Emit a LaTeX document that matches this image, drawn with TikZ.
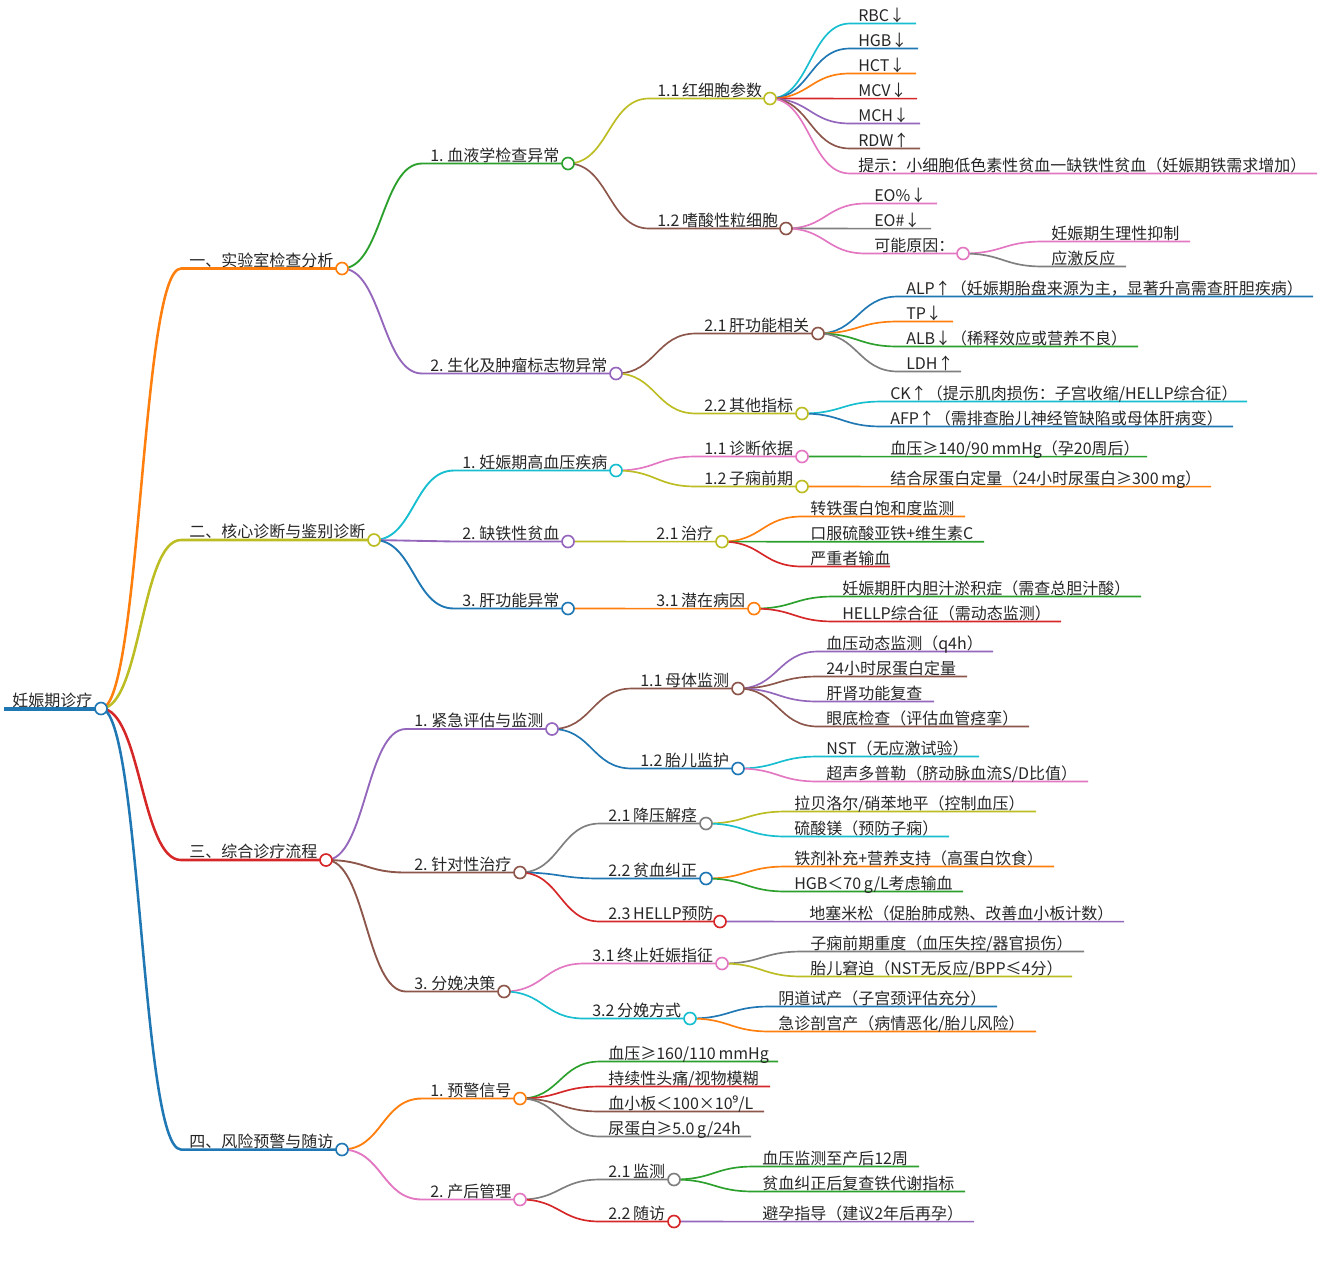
\documentclass[tikz,border=0pt]{standalone}
\usepackage{fontspec}
\setmainfont[WordSpace=0.75]{Noto Sans CJK SC}
\newfontfamily\supfont{Noto Sans}
\usetikzlibrary{calc,backgrounds}
\definecolor{cblue}{HTML}{1F77B4}
\definecolor{corange}{HTML}{FF7F0E}
\definecolor{cgreen}{HTML}{2CA02C}
\definecolor{cred}{HTML}{D62728}
\definecolor{cpurple}{HTML}{9467BD}
\definecolor{cbrown}{HTML}{8C564B}
\definecolor{cpink}{HTML}{E377C2}
\definecolor{cgray}{HTML}{7F7F7F}
\definecolor{colive}{HTML}{BCBD22}
\definecolor{ccyan}{HTML}{17BECF}
\tikzset{
  txt/.style={anchor=south west,inner xsep=6pt,inner ysep=0pt,text depth=1.5pt,text=black!85,font=\fontsize{12}{14}\selectfont},
  dot/.style={circle,draw=#1,fill=white,line width=1.25pt,minimum size=9pt,inner sep=0pt},
  lk/.style={to path={.. controls ($(\tikztostart)!0.5!(\tikztotarget |- \tikztostart)$) and ($(\tikztostart |- \tikztotarget)!0.5!(\tikztotarget)$) .. (\tikztotarget)}},
  lnone/.style={line width=1.9pt},
  lntwo/.style={line width=1.4pt},
  lnrest/.style={line width=1.25pt}
}
\begin{document}
\begin{tikzpicture}[x=0.75pt,y=-0.75pt]
  \useasboundingbox (0,0) rectangle (1323,1264);
  % root
  \node [txt] (rt) at (4,708.5) {妊娠期诊疗};
  \node [dot=cblue] (rte) at (101,708.5) {};
  % first branch
  \node [txt] (a) at (181,268.5) {一、实验室检查分析};
  \node [dot=corange] (ae) at (342,268.5) {};
  \node [txt] (a1) at (422,163.5) {1. 血液学检查异常};
  \node [dot=cgreen] (a1e) at (568,163.5) {};
  \node [txt] (a1a) at (649,98.5) {1.1 红细胞参数};
  \node [dot=colive] (a1ae) at (770,98.5) {};
  \node [txt] (rbc) at (850,23.5) {RBC↓};
  \coordinate (rbce) at (916,23.5);
  \node [txt] (hgb) at (850,48.5) {HGB↓};
  \coordinate (hgbe) at (918,48.5);
  \node [txt] (hct) at (850,73.5) {HCT↓};
  \coordinate (hcte) at (916,73.5);
  \node [txt] (mcv) at (850,98.6) {MCV↓};
  \coordinate (mcve) at (917,98.6);
  \node [txt] (mch) at (850,123.5) {MCH↓};
  \coordinate (mche) at (920,123.5);
  \node [txt] (rdw) at (850,148.5) {RDW↑};
  \coordinate (rdwe) at (920,148.5);
  \node [txt] (tip) at (850,173.5) {提示：小细胞低色素性贫血一缺铁性贫血（妊娠期铁需求增加）};
  \coordinate (tipe) at (1317,173.5);
  \node [txt] (a1b) at (649,228.5) {1.2 嗜酸性粒细胞};
  \node [dot=cbrown] (a1be) at (786,228.5) {};
  \node [txt] (eop) at (866,203.5) {EO\%↓};
  \coordinate (eope) at (937,203.5);
  \node [txt] (eon) at (866,228.6) {EO\#↓};
  \coordinate (eone) at (931,228.6);
  \node [txt] (eoc) at (866,253.5) {可能原因：};
  \node [dot=cpink] (eoce) at (963,253.5) {};
  \node [txt] (eoc1) at (1043,241.5) {妊娠期生理性抑制};
  \coordinate (eoc1e) at (1190,241.5);
  \node [txt] (eoc2) at (1043,266.5) {应激反应};
  \coordinate (eoc2e) at (1126,266.5);
  \node [txt] (a2) at (422,373.5) {2. 生化及肿瘤标志物异常};
  \node [dot=cpurple] (a2e) at (616,373.5) {};
  \node [txt] (a2a) at (696,333.5) {2.1 肝功能相关};
  \node [dot=cbrown] (a2ae) at (818,333.5) {};
  \node [txt] (alp) at (898,296.5) {ALP↑（妊娠期胎盘来源为主，显著升高需查肝胆疾病）};
  \coordinate (alpe) at (1313,296.5);
  \node [txt] (tp) at (898,321.5) {TP↓};
  \coordinate (tpe) at (953,321.5);
  \node [txt] (alb) at (898,346.5) {ALB↓（稀释效应或营养不良）};
  \coordinate (albe) at (1138,346.5);
  \node [txt] (ldh) at (898,371.5) {LDH↑};
  \coordinate (ldhe) at (961,371.5);
  \node [txt] (a2b) at (696,413.5) {2.2 其他指标};
  \node [dot=colive] (a2be) at (802,413.5) {};
  \node [txt] (ck) at (882,401.5) {CK↑（提示肌肉损伤：子宫收缩/HELLP综合征）};
  \coordinate (cke) at (1247,401.5);
  \node [txt] (afp) at (882,426.5) {AFP↑（需排查胎儿神经管缺陷或母体肝病变）};
  \coordinate (afpe) at (1233,426.5);
  % second branch
  \node [txt] (b) at (181,540) {二、核心诊断与鉴别诊断};
  \node [dot=colive] (be) at (374,540) {};
  \node [txt] (b1) at (454,470.5) {1. 妊娠期高血压疾病};
  \node [dot=ccyan] (b1e) at (616,470.5) {};
  \node [txt] (b1a) at (696,456.5) {1.1 诊断依据};
  \node [dot=cpink] (b1ae) at (802,456.5) {};
  \node [txt] (bp) at (882,456.6) {血压≥140/90 mmHg（孕20周后）};
  \coordinate (bpe) at (1147,456.6);
  \node [txt] (b1b) at (696,486.5) {1.2 子痫前期};
  \node [dot=colive] (b1be) at (802,486.5) {};
  \node [txt] (upq) at (882,486.6) {结合尿蛋白定量（24小时尿蛋白≥300 mg）};
  \coordinate (upqe) at (1211,486.6);
  \node [txt] (b2) at (454,541.5) {2. 缺铁性贫血};
  \node [dot=cpurple] (b2e) at (568,541.5) {};
  \node [txt] (b2a) at (648,541.6) {2.1 治疗};
  \node [dot=colive] (b2ae) at (722,541.6) {};
  \node [txt] (tsat) at (802,516.5) {转铁蛋白饱和度监测};
  \coordinate (tsate) at (965,516.5);
  \node [txt] (feso) at (802,541.7) {口服硫酸亚铁+维生素C};
  \coordinate (fesoe) at (984,541.7);
  \node [txt] (trf) at (802,566.5) {严重者输血};
  \coordinate (trfe) at (890,566.5);
  \node [txt] (b3) at (454,608.5) {3. 肝功能异常};
  \node [dot=cblue] (b3e) at (568,608.5) {};
  \node [txt] (b3a) at (648,608.6) {3.1 潜在病因};
  \node [dot=corange] (b3ae) at (754,608.6) {};
  \node [txt] (icp) at (834,596.5) {妊娠期肝内胆汁淤积症（需查总胆汁酸）};
  \coordinate (icpe) at (1141,596.5);
  \node [txt] (hellp) at (834,621.5) {HELLP综合征（需动态监测）};
  \coordinate (hellpe) at (1061,621.5);
  % third branch
  \node [txt] (c) at (181,860) {三、综合诊疗流程};
  \node [dot=cred] (ce) at (326,860) {};
  \node [txt] (c1) at (406,729) {1. 紧急评估与监测};
  \node [dot=cpurple] (c1e) at (552,729) {};
  \node [txt] (c1a) at (632,688.5) {1.1 母体监测};
  \node [dot=cbrown] (c1ae) at (738,688.5) {};
  \node [txt] (abp) at (818,651.5) {血压动态监测（q4h）};
  \coordinate (abpe) at (993,651.5);
  \node [txt] (upr) at (818,676.5) {24小时尿蛋白定量};
  \coordinate (upre) at (967,676.5);
  \node [txt] (lkf) at (818,701.5) {肝肾功能复查};
  \coordinate (lkfe) at (934,701.5);
  \node [txt] (fun) at (818,726.5) {眼底检查（评估血管痉挛）};
  \coordinate (fune) at (1029,726.5);
  \node [txt] (c1b) at (632,768.5) {1.2 胎儿监护};
  \node [dot=cblue] (c1be) at (738,768.5) {};
  \node [txt] (nst) at (818,756.5) {NST（无应激试验）};
  \coordinate (nste) at (979,756.5);
  \node [txt] (usd) at (818,781.5) {超声多普勒（脐动脉血流S/D比值）};
  \coordinate (usde) at (1088,781.5);
  \node [txt] (c2) at (406,872.5) {2. 针对性治疗};
  \node [dot=cbrown] (c2e) at (520,872.5) {};
  \node [txt] (c2a) at (600,823.5) {2.1 降压解痉};
  \node [dot=cgray] (c2ae) at (706,823.5) {};
  \node [txt] (lab) at (786,811.5) {拉贝洛尔/硝苯地平（控制血压）};
  \coordinate (labe) at (1036,811.5);
  \node [txt] (mgs) at (786,836.5) {硫酸镁（预防子痫）};
  \coordinate (mgse) at (949,836.5);
  \node [txt] (c2b) at (600,878.5) {2.2 贫血纠正};
  \node [dot=cblue] (c2be) at (706,878.5) {};
  \node [txt] (iron) at (786,866.5) {铁剂补充+营养支持（高蛋白饮食）};
  \coordinate (irone) at (1054,866.5);
  \node [txt] (hgbt) at (786,891.5) {HGB＜70 g/L考虑输血};
  \coordinate (hgbte) at (963,891.5);
  \node [txt] (c2c) at (600,921.5) {2.3 HELLP预防};
  \node [dot=cred] (c2ce) at (720,921.5) {};
  \node [txt] (dex) at (801,921.6) {地塞米松（促胎肺成熟、改善血小板计数）};
  \coordinate (dexe) at (1124,921.6);
  \node [txt] (c3) at (406,991.5) {3. 分娩决策};
  \node [dot=cbrown] (c3e) at (504,991.5) {};
  \node [txt] (c3a) at (584,963.5) {3.1 终止妊娠指征};
  \node [dot=cpink] (c3ae) at (722,963.5) {};
  \node [txt] (spe) at (802,951.5) {子痫前期重度（血压失控/器官损伤）};
  \coordinate (spee) at (1084,951.5);
  \node [txt] (fd) at (802,976.5) {胎儿窘迫（NST无反应/BPP≤4分）};
  \coordinate (fde) at (1072,976.5);
  \node [txt] (c3b) at (584,1018.5) {3.2 分娩方式};
  \node [dot=ccyan] (c3be) at (690,1018.5) {};
  \node [txt] (vag) at (770,1006.5) {阴道试产（子宫颈评估充分）};
  \coordinate (vage) at (997,1006.5);
  \node [txt] (ces) at (770,1031.5) {急诊剖宫产（病情恶化/胎儿风险）};
  \coordinate (cese) at (1036,1031.5);
  % fourth branch
  \node [txt] (d) at (181,1149.5) {四、风险预警与随访};
  \node [dot=cblue] (de) at (342,1149.5) {};
  \node [txt] (d1) at (422,1098.5) {1. 预警信号};
  \node [dot=corange] (d1e) at (520,1098.5) {};
  \node [txt] (wbp) at (600,1061.5) {血压≥160/110 mmHg};
  \coordinate (wbpe) at (778,1061.5);
  \node [txt] (wha) at (600,1086.5) {持续性头痛/视物模糊};
  \coordinate (whae) at (770,1086.5);
  \node [txt] (wpl) at (600,1111.5) {血小板＜100×10{\supfont ⁹}/L};
  \coordinate (wple) at (764,1111.5);
  \node [txt] (wup) at (600,1136.5) {尿蛋白≥5.0 g/24h};
  \coordinate (wupe) at (751,1136.5);
  \node [txt] (d2) at (422,1199.5) {2. 产后管理};
  \node [dot=cpink] (d2e) at (520,1199.5) {};
  \node [txt] (d2a) at (600,1179.5) {2.1 监测};
  \node [dot=cgray] (d2ae) at (674,1179.5) {};
  \node [txt] (pbp) at (754,1166.5) {血压监测至产后12周};
  \coordinate (pbpe) at (919,1166.5);
  \node [txt] (pfe) at (754,1191.5) {贫血纠正后复查铁代谢指标};
  \coordinate (pfee) at (965,1191.5);
  \node [txt] (d2b) at (600,1221.5) {2.2 随访};
  \node [dot=cred] (d2be) at (674,1221.5) {};
  \node [txt] (con) at (754,1221.6) {避孕指导（建议2年后再孕）};
  \coordinate (cone) at (974,1221.6);
  % connectors under the circles
  \begin{pgfonlayer}{background}
    \draw [cblue,line width=3pt] (rt.south west) -- (rte.center);
    \begin{scope}[lnone]
      \draw [corange] (rte.center) to [lk] (a.south west) -- (ae.center);
      \draw [colive] (rte.center) to [lk] (b.south west) -- (be.center);
      \draw [cred] (rte.center) to [lk] (c.south west) -- (ce.center);
      \draw [cblue] (rte.center) to [lk] (d.south west) -- (de.center);
    \end{scope}
    \begin{scope}[lntwo]
      \draw [cgreen] (ae.center) to [lk] (a1.south west) -- (a1e.center);
      \draw [cpurple] (ae.center) to [lk] (a2.south west) -- (a2e.center);
      \draw [ccyan] (be.center) to [lk] (b1.south west) -- (b1e.center);
      \draw [cpurple] (be.center) to [lk] (b2.south west) -- (b2e.center);
      \draw [cblue] (be.center) to [lk] (b3.south west) -- (b3e.center);
      \draw [cpurple] (ce.center) to [lk] (c1.south west) -- (c1e.center);
      \draw [cbrown] (ce.center) to [lk] (c2.south west) -- (c2e.center);
      \draw [cbrown] (ce.center) to [lk] (c3.south west) -- (c3e.center);
      \draw [corange] (de.center) to [lk] (d1.south west) -- (d1e.center);
      \draw [cpink] (de.center) to [lk] (d2.south west) -- (d2e.center);
    \end{scope}
    \begin{scope}[lnrest]
      \draw [colive] (a1e.center) to [lk] (a1a.south west) -- (a1ae.center);
      \draw [cbrown] (a1e.center) to [lk] (a1b.south west) -- (a1be.center);
      \draw [ccyan] (a1ae.center) to [lk] (rbc.south west) -- (rbce);
      \draw [cblue] (a1ae.center) to [lk] (hgb.south west) -- (hgbe);
      \draw [corange] (a1ae.center) to [lk] (hct.south west) -- (hcte);
      \draw [cred] (a1ae.center) to [lk] (mcv.south west) -- (mcve);
      \draw [cpurple] (a1ae.center) to [lk] (mch.south west) -- (mche);
      \draw [cbrown] (a1ae.center) to [lk] (rdw.south west) -- (rdwe);
      \draw [cpink] (a1ae.center) to [lk] (tip.south west) -- (tipe);
      \draw [cpink] (a1be.center) to [lk] (eop.south west) -- (eope);
      \draw [cgray] (a1be.center) to [lk] (eon.south west) -- (eone);
      \draw [cpink] (a1be.center) to [lk] (eoc.south west) -- (eoce.center);
      \draw [cpink] (eoce.center) to [lk] (eoc1.south west) -- (eoc1e);
      \draw [cgray] (eoce.center) to [lk] (eoc2.south west) -- (eoc2e);
      \draw [cbrown] (a2e.center) to [lk] (a2a.south west) -- (a2ae.center);
      \draw [colive] (a2e.center) to [lk] (a2b.south west) -- (a2be.center);
      \draw [cblue] (a2ae.center) to [lk] (alp.south west) -- (alpe);
      \draw [corange] (a2ae.center) to [lk] (tp.south west) -- (tpe);
      \draw [cgreen] (a2ae.center) to [lk] (alb.south west) -- (albe);
      \draw [cgray] (a2ae.center) to [lk] (ldh.south west) -- (ldhe);
      \draw [ccyan] (a2be.center) to [lk] (ck.south west) -- (cke);
      \draw [cblue] (a2be.center) to [lk] (afp.south west) -- (afpe);
      \draw [cpink] (b1e.center) to [lk] (b1a.south west) -- (b1ae.center);
      \draw [colive] (b1e.center) to [lk] (b1b.south west) -- (b1be.center);
      \draw [cgreen] (b1ae.center) to [lk] (bp.south west) -- (bpe);
      \draw [corange] (b1be.center) to [lk] (upq.south west) -- (upqe);
      \draw [colive] (b2e.center) to [lk] (b2a.south west) -- (b2ae.center);
      \draw [corange] (b2ae.center) to [lk] (tsat.south west) -- (tsate);
      \draw [cgreen] (b2ae.center) to [lk] (feso.south west) -- (fesoe);
      \draw [cred] (b2ae.center) to [lk] (trf.south west) -- (trfe);
      \draw [corange] (b3e.center) to [lk] (b3a.south west) -- (b3ae.center);
      \draw [cgreen] (b3ae.center) to [lk] (icp.south west) -- (icpe);
      \draw [cred] (b3ae.center) to [lk] (hellp.south west) -- (hellpe);
      \draw [cbrown] (c1e.center) to [lk] (c1a.south west) -- (c1ae.center);
      \draw [cblue] (c1e.center) to [lk] (c1b.south west) -- (c1be.center);
      \draw [cpurple] (c1ae.center) to [lk] (abp.south west) -- (abpe);
      \draw [cbrown] (c1ae.center) to [lk] (upr.south west) -- (upre);
      \draw [cpurple] (c1ae.center) to [lk] (lkf.south west) -- (lkfe);
      \draw [cbrown] (c1ae.center) to [lk] (fun.south west) -- (fune);
      \draw [ccyan] (c1be.center) to [lk] (nst.south west) -- (nste);
      \draw [cpink] (c1be.center) to [lk] (usd.south west) -- (usde);
      \draw [cgray] (c2e.center) to [lk] (c2a.south west) -- (c2ae.center);
      \draw [cblue] (c2e.center) to [lk] (c2b.south west) -- (c2be.center);
      \draw [cred] (c2e.center) to [lk] (c2c.south west) -- (c2ce.center);
      \draw [colive] (c2ae.center) to [lk] (lab.south west) -- (labe);
      \draw [ccyan] (c2ae.center) to [lk] (mgs.south west) -- (mgse);
      \draw [corange] (c2be.center) to [lk] (iron.south west) -- (irone);
      \draw [cgreen] (c2be.center) to [lk] (hgbt.south west) -- (hgbte);
      \draw [cpurple] (c2ce.center) to [lk] (dex.south west) -- (dexe);
      \draw [cpink] (c3e.center) to [lk] (c3a.south west) -- (c3ae.center);
      \draw [ccyan] (c3e.center) to [lk] (c3b.south west) -- (c3be.center);
      \draw [cgray] (c3ae.center) to [lk] (spe.south west) -- (spee);
      \draw [colive] (c3ae.center) to [lk] (fd.south west) -- (fde);
      \draw [cblue] (c3be.center) to [lk] (vag.south west) -- (vage);
      \draw [corange] (c3be.center) to [lk] (ces.south west) -- (cese);
      \draw [cgreen] (d1e.center) to [lk] (wbp.south west) -- (wbpe);
      \draw [cred] (d1e.center) to [lk] (wha.south west) -- (whae);
      \draw [cbrown] (d1e.center) to [lk] (wpl.south west) -- (wple);
      \draw [cgray] (d1e.center) to [lk] (wup.south west) -- (wupe);
      \draw [cgray] (d2e.center) to [lk] (d2a.south west) -- (d2ae.center);
      \draw [cred] (d2e.center) to [lk] (d2b.south west) -- (d2be.center);
      \draw [cgreen] (d2ae.center) to [lk] (pbp.south west) -- (pbpe);
      \draw [cgreen] (d2ae.center) to [lk] (pfe.south west) -- (pfee);
      \draw [cpurple] (d2be.center) to [lk] (con.south west) -- (cone);
    \end{scope}
  \end{pgfonlayer}
\end{tikzpicture}
\end{document}
